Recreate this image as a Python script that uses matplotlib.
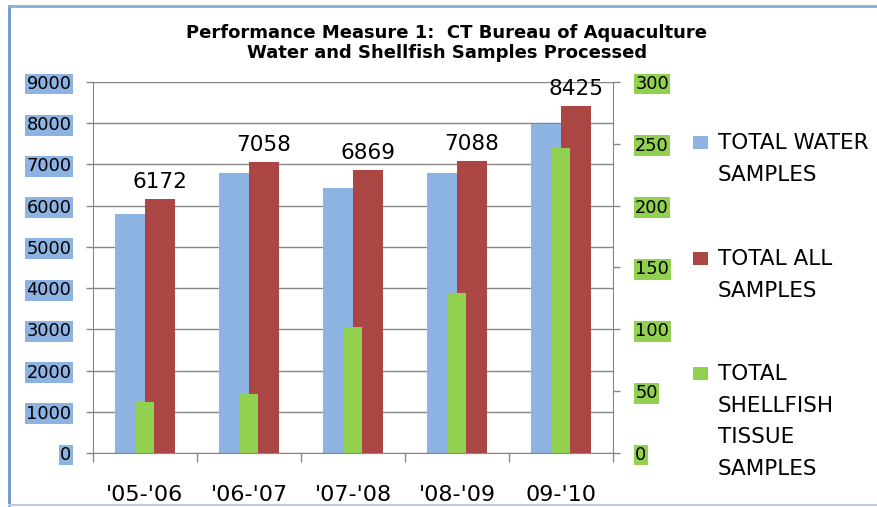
import matplotlib.pyplot as plt
from matplotlib.patches import Rectangle
from matplotlib.lines import Line2D

# data
seasons = ["'05-'06", "'06-'07", "'07-'08", "'08-'09", "09-'10"]
water = [5800, 6790, 6430, 6790, 7970]
all_samples = [6172, 7058, 6869, 7088, 8425]
shellfish = [41, 48, 102, 129, 247]
left_ticks = [0, 1000, 2000, 3000, 4000, 5000, 6000, 7000, 8000, 9000]
right_ticks = [0, 50, 100, 150, 200, 250, 300]
legend_labels = ["TOTAL WATER\nSAMPLES", "TOTAL ALL\nSAMPLES",
                 "TOTAL\nSHELLFISH\nTISSUE\nSAMPLES"]

c_water = '#8DB3E2'
c_all = '#AA4644'
c_shell = '#92D050'
c_axis = '#868686'

W, H = 878, 507
fig = plt.figure(figsize=(W / 100, H / 100), dpi=100)
plt.rcParams['font.family'] = 'DejaVu Sans'

# plot area in pixels: left 93, right 613, top 82, bottom 453
ax = fig.add_axes([93 / W, 1 - 453 / H, (613 - 93) / W, (453 - 82) / H])
ax2 = ax.twinx()

x = list(range(len(seasons)))
bw = 0.29
ax.bar([i - bw / 2 for i in x], water, width=bw, color=c_water, zorder=2)
bars = ax.bar([i + bw / 2 for i in x], all_samples, width=bw, color=c_all, zorder=2)
ax2.bar(x, shellfish, width=0.165, color=c_shell, zorder=2)

for b, v in zip(bars, all_samples):
    ax.annotate(str(v), (b.get_x() + b.get_width() / 2, v), xytext=(0, 5),
                textcoords='offset points', ha='center', va='bottom', fontsize=15.5)

ax.set_xlim(-0.5, len(seasons) - 0.5)
ax.set_ylim(0, 9000)
ax2.set_ylim(0, 300)

ax.set_yticks(left_ticks)
ax.set_yticklabels([str(t) for t in left_ticks])
ax2.set_yticks(right_ticks)
ax2.set_yticklabels([str(t) for t in right_ticks])

ax.yaxis.grid(True, color=c_axis, lw=1, zorder=0)
ax.set_axisbelow(True)

ax.set_xticks(x)
ax.set_xticklabels(seasons, fontsize=16)
ax.set_xticks([i - 0.5 for i in range(len(seasons) + 1)], minor=True)
ax.tick_params(axis='x', which='major', length=0, pad=23)
ax.tick_params(axis='x', which='minor', length=6.5, color=c_axis, width=1)
ax.tick_params(axis='y', length=5, color=c_axis, width=1, pad=10.5, labelsize=12.8)
ax2.tick_params(axis='y', length=5, color=c_axis, width=1, pad=11, labelsize=12.8)

for lab in ax.get_yticklabels():
    lab.set_bbox(dict(facecolor=c_water, edgecolor='none', pad=1))
for lab in ax2.get_yticklabels():
    lab.set_bbox(dict(facecolor=c_shell, edgecolor='none', pad=1))

for a in (ax, ax2):
    for s in a.spines.values():
        s.set_color(c_axis)
    a.spines['top'].set_visible(False)
ax.spines['right'].set_visible(False)
ax2.spines['left'].set_visible(False)
ax2.spines['bottom'].set_visible(False)

# title
fig.text(447 / W, 1 - 37.5 / H, "Performance Measure 1:  CT Bureau of Aquaculture",
         ha='center', va='baseline', fontsize=13, fontweight='bold')
fig.text(447 / W, 1 - 58.5 / H, "Water and Shellfish Samples Processed",
         ha='center', va='baseline', fontsize=13, fontweight='bold')

# legend drawn by hand so the squares sit on the first line
for lab, col, ytop in zip(legend_labels, [c_water, c_all, c_shell], [136, 252, 367]):
    fig.patches.append(Rectangle((693 / W, 1 - (ytop + 13) / H), 15 / W, 13 / H,
                                 transform=fig.transFigure, facecolor=col,
                                 edgecolor='none'))
    fig.text(718 / W, 1 - (ytop - 3) / H, lab, ha='left', va='top',
             fontsize=15.5, linespacing=1.73)

# chart border
fig.lines.append(Line2D([8.5 / W, 8.5 / W], [1 - 505 / H, 1 - 5.5 / H],
                        transform=fig.transFigure, color='#6C95CB', lw=2))
fig.lines.append(Line2D([8.5 / W, 1], [1 - 5.5 / H, 1 - 5.5 / H],
                        transform=fig.transFigure, color='#8AACD6', lw=2))
fig.lines.append(Line2D([8.5 / W, 1], [1 - 505 / H, 1 - 505 / H],
                        transform=fig.transFigure, color='#B9CDE5', lw=1.5))

fig.savefig('out.png', dpi=100)
